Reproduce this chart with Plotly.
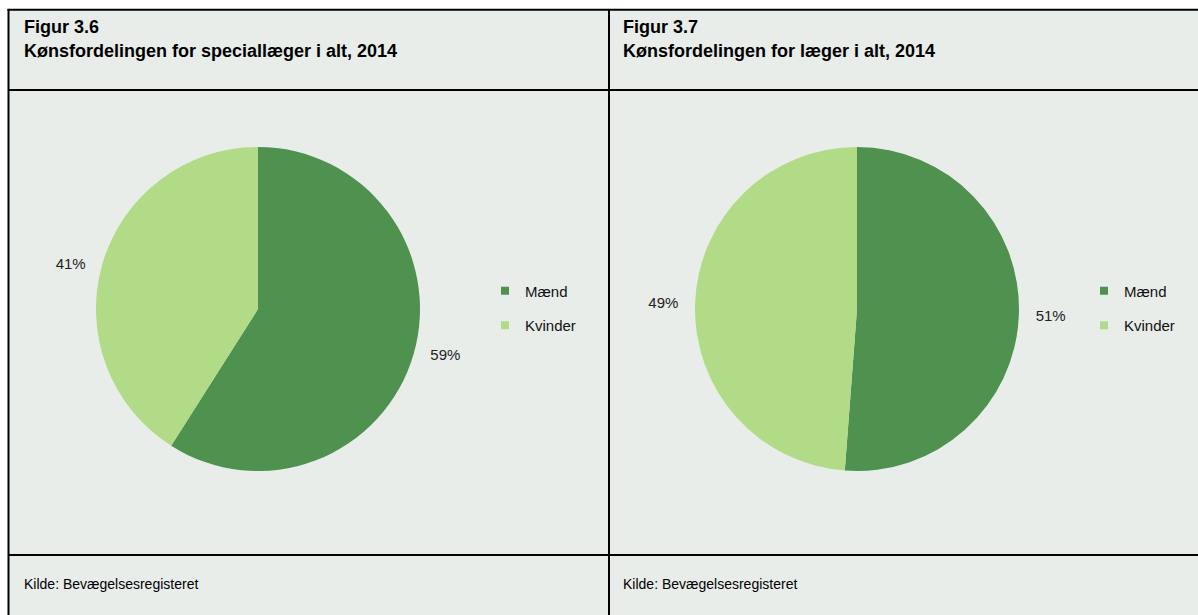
import plotly.graph_objects as go

W, H = 1198, 615

categories = ["Mænd", "Kvinder"]
values_speciallaeger = [59.0, 41.0]
values_laeger = [51.2, 48.8]
fig_numbers = ["Figur 3.6", "Figur 3.7"]
fig_titles = ["Kønsfordelingen for speciallæger i alt, 2014",
              "Kønsfordelingen for læger i alt, 2014"]
source = "Kilde: Bevægelsesregisteret"

colors = ["#4F914E", "#B1DB86"]
bg = "#E8EDEA"
FONT = "Liberation Sans, Arial, sans-serif"


def px(x):
    """page x pixel -> paper fraction"""
    return x / W


def py(y):
    """page y pixel -> paper fraction"""
    return 1 - y / H


fig = go.Figure()

pie_boxes = [(96, 420), (695, 1019)]
legend_names = ["legend", "legend2"]
legend_x = [485, 1084]
pad = "\u00a0\u00a0\u00a0"
for i, vals in enumerate([values_speciallaeger, values_laeger]):
    x0, x1 = pie_boxes[i]
    fig.add_trace(go.Pie(
        labels=categories, values=vals, sort=False, direction="clockwise",
        rotation=0, marker=dict(colors=colors, line=dict(width=0)),
        textposition="outside",
        texttemplate=[pad + "%{percent:.0%}", "%{percent:.0%}" + pad],
        textfont=dict(family=FONT, size=15, color="#222"),
        showlegend=False, hoverinfo="label+percent",
        domain=dict(x=[px(x0), px(x1)], y=[py(471), py(147)]),
    ))
    for j, c in enumerate(categories):
        fig.add_trace(go.Scatter(
            x=[None], y=[None], mode="markers", name=c,
            marker=dict(symbol="square", size=8, color=colors[j]),
            legend=legend_names[i], legendgroup=f"g{i}{j}", showlegend=True,
        ))

shapes = []
# white margins outside the framed panel (top strip and left strip)
shapes.append(dict(type="rect", xref="paper", yref="paper", x0=0, x1=1,
                   y0=py(9), y1=1, fillcolor="white", line=dict(width=0), layer="below"))
shapes.append(dict(type="rect", xref="paper", yref="paper", x0=0, x1=px(8),
                   y0=0, y1=1, fillcolor="white", line=dict(width=0), layer="below"))
line = dict(color="black", width=2)
for (xa, ya, xb, yb) in [(7.5, 9.8, 1198, 9.8), (8.5, 9, 8.5, 615), (609, 9, 609, 615),
                         (8, 90, 1198, 90), (8, 555, 1198, 555)]:
    shapes.append(dict(type="line", xref="paper", yref="paper",
                       x0=px(xa), y0=py(ya), x1=px(xb), y1=py(yb), line=line))

annotations = []
for i, x0 in enumerate([22, 621]):
    annotations.append(dict(text="<b>" + fig_numbers[i] + "</b>", x=px(x0), y=py(27),
                            xref="paper", yref="paper", xanchor="left", yanchor="middle",
                            showarrow=False, font=dict(family=FONT, size=18, color="black")))
    annotations.append(dict(text="<b>" + fig_titles[i] + "</b>", x=px(x0), y=py(51),
                            xref="paper", yref="paper", xanchor="left", yanchor="middle",
                            showarrow=False, font=dict(family=FONT, size=18, color="black")))
    annotations.append(dict(text=source, x=px(x0), y=py(584),
                            xref="paper", yref="paper", xanchor="left", yanchor="middle",
                            showarrow=False, font=dict(family=FONT, size=14, color="black")))

legend_style = dict(font=dict(family=FONT, size=15, color="#111"),
                    bgcolor="rgba(0,0,0,0)", traceorder="grouped", tracegroupgap=12,
                    xanchor="left", yanchor="middle", itemwidth=30)
fig.update_layout(
    width=W, height=H, margin=dict(l=0, r=0, t=0, b=0), autosize=False,
    paper_bgcolor=bg, plot_bgcolor="rgba(0,0,0,0)",
    xaxis=dict(visible=False), yaxis=dict(visible=False),
    shapes=shapes, annotations=annotations,
    legend=dict(x=px(legend_x[0]), y=py(308), **legend_style),
    legend2=dict(x=px(legend_x[1]), y=py(308), **legend_style),
)

fig.write_html(
    "out.html",
    config={"displayModeBar": False},
    post_script=("document.body.style.margin='0';document.body.style.overflow='hidden';"
                 "document.body.style.background='" + bg + "';"),
)
